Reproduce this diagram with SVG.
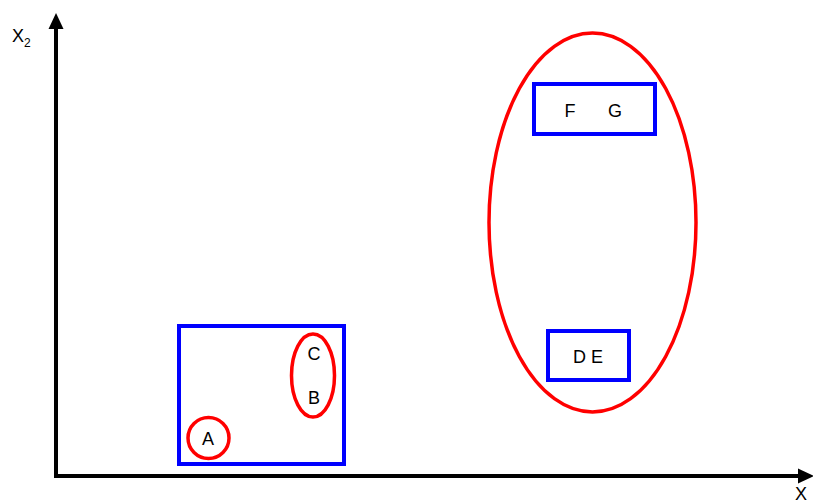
<svg xmlns="http://www.w3.org/2000/svg" width="813" height="504" viewBox="0 0 813 504">
<defs>
<style>
.blue{fill:none;stroke:#0000FF;stroke-width:4}
.red{fill:none;stroke:#FF0000;stroke-width:3.5}
.axis{stroke:#000;stroke-width:4;fill:none}
text{font-family:"Liberation Sans",Arial,sans-serif;font-size:18px;fill:#000}
</style>
</defs>
<rect width="813" height="504" fill="#fff"/>
<g id="axes">
<line class="axis" x1="56" y1="476" x2="56" y2="26"/>
<polygon points="56,13 48.5,29 63.5,29" fill="#000"/>
<line class="axis" x1="54" y1="476" x2="800" y2="476"/>
<polygon points="814,476 798,468.5 798,483.5" fill="#000"/>
<text x="12" y="42">X<tspan font-size="12" dy="5">2</tspan></text>
<text x="795" y="500">X</text>
</g>
<g id="cluster-ABC"><rect class="blue" x="179" y="326" width="165" height="138"/></g>
<g id="A"><ellipse class="red" cx="208.5" cy="438" rx="20.5" ry="20.5"/><text x="208" y="445" text-anchor="middle">A</text></g>
<g id="BC"><ellipse class="red" cx="313" cy="375.5" rx="21.5" ry="41.5"/>
<text x="314" y="360" text-anchor="middle">C</text><text x="314" y="404" text-anchor="middle">B</text></g>
<g id="cluster-DEFG"><ellipse class="red" cx="592.5" cy="222.5" rx="103.5" ry="189.5"/></g>
<g id="FG"><rect class="blue" x="534" y="84" width="121" height="50"/>
<text x="570" y="117" text-anchor="middle">F</text><text x="615" y="117" text-anchor="middle">G</text></g>
<g id="DE"><rect class="blue" x="548" y="331" width="81" height="49"/>
<text x="588" y="363" text-anchor="middle">D E</text></g>
</svg>
